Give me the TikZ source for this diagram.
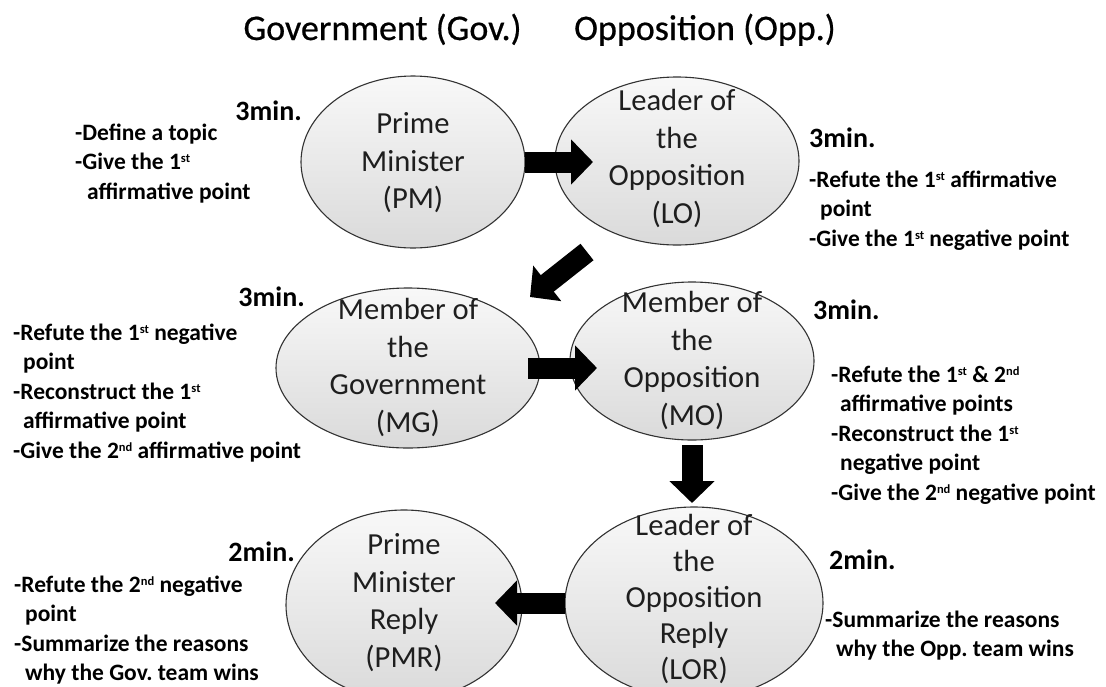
\documentclass[tikz,border=0pt]{standalone}
\usepackage{fontspec}
\setmainfont{Carlito}
\newfontfamily\titlefont{Carlito}[FakeBold=0.6]
\usetikzlibrary{shapes.geometric,arrows.meta}
\definecolor{ellTop}{RGB}{248,248,248}
\definecolor{ellBot}{RGB}{218,218,218}
\definecolor{ellLine}{RGB}{50,50,50}
\definecolor{txt}{RGB}{30,30,30}
\newcommand{\nstrut}{\rule{0pt}{19pt}}
\newcommand{\etop}{\rule{0pt}{24pt}}
\newcommand{\ebot}{\rule[-8pt]{0pt}{8pt}}
\newcommand{\sps}[1]{\raisebox{7pt}{\fontsize{12.5}{12.5}\selectfont #1}}
\begin{document}
\lineskiplimit=-100pt\relax
\begin{tikzpicture}[x=1pt,y=-1pt,
  ell/.style={ellipse, draw=ellLine, line width=1.1pt, top color=ellTop, bottom color=ellBot, inner sep=0pt, outer sep=0pt},
  eltext/.style={align=center, inner sep=0pt, text=txt, font=\fontsize{30.6}{37.5}\selectfont},
  titletext/.style={anchor=base, inner sep=0pt, text=black, font=\titlefont\fontsize{36}{40}\selectfont},
  tmin/.style={inner sep=0pt, text=black, font=\bfseries\fontsize{28}{32}\selectfont},
  note/.style={anchor=north west, align=left, inner sep=0pt, text=black, font=\bfseries\fontsize{23.5}{29.5}\selectfont},
  bigarrow/.style={draw=black, line width=21pt, -{Triangle[length=22pt,width=44pt]}},
]
\useasboundingbox (0,0) rectangle (1106,686);
\fill[white] (0,0) rectangle (1106,686);

% ellipses
\node[ell, minimum width=224pt, minimum height=172pt] (PM) at (413,162) {};
\node[ell, minimum width=244pt, minimum height=168pt] (LO) at (677,161) {};
\node[ell, minimum width=264pt, minimum height=160pt] (MG) at (408,368) {};
\node[ell, minimum width=244pt, minimum height=158pt] (MO) at (692,361) {};
\node[ell, minimum width=236pt, minimum height=190pt] (PMR) at (404,605) {};
\node[ell, minimum width=258pt, minimum height=192pt] (LOR) at (694,603) {};

% arrows
\coordinate (dA) at (587,252);
\coordinate (dB) at (530,297);
\draw[bigarrow, shorten >=-38pt] (PM.east) -- (PM.east -| LO.west);
\draw[bigarrow] (dA) -- (dB);
\draw[bigarrow, shorten <=-12pt, shorten >=-27pt] (MG.east) -- (MG.east -| MO.west);
\draw[bigarrow, shorten <=5pt, shorten >=4pt] (MO.south) -- (MO.south |- LOR.north);
\draw[bigarrow, shorten >=-27pt] (LOR.west) -- (LOR.west -| PMR.east);

% ellipse texts
\node[eltext] (PMt) at (413,163) {\etop Prime\\Minister\\(PM)\ebot};
\node[eltext] (LOt) at (677,159) {\etop Leader of\\the\\Opposition\\(LO)\ebot};
\node[eltext] (MGt) at (408,368) {\etop Member of\\the\\Government\\(MG)\ebot};
\node[eltext] (MOt) at (692,361) {\etop Member of\\the\\Opposition\\(MO)\ebot};
\node[eltext] (PMRt) at (404,603) {\etop Prime\\Minister\\Reply\\(PMR)\ebot};
\node[eltext, font=\fontsize{30.6}{36}\selectfont] (LORt) at (694,599) {\etop Leader of\\the\\Opposition\\Reply\\(LOR)\ebot};

% titles
\node[titletext] (tGov) at (382.5,40) {Government (Gov.)};
\node[titletext] (tOpp) at (705,40) {Opposition (Opp.)};

% times
\node[tmin, anchor=east] (tPM) at (302,111) {3min.};
\node[tmin, anchor=west] (tLO) at (809,138) {3min.};
\node[tmin, anchor=east] (tMG) at (305,297) {3min.};
\node[tmin, anchor=west] (tMO) at (813,310) {3min.};
\node[tmin, anchor=east] (tPMR) at (295,552) {2min.};
\node[tmin, anchor=west] (tLOR) at (829,560) {2min.};

% notes
\node[note] (nPM) at (75,121) {\nstrut-Define a topic\\-Give the 1\sps{st}\\\hspace*{12pt}affirmative point};
\node[note] (nLO) at (809,168) {\nstrut-Refute the 1\sps{st} affirmative\\\hspace*{11pt}point\\-Give the 1\sps{st} negative point};
\node[note] (nMG) at (13,321) {\nstrut-Refute the 1\sps{st} negative\\\hspace*{10pt}point\\-Reconstruct the 1\sps{st}\\\hspace*{10pt}affirmative point\\-Give the 2\sps{nd} affirmative point};
\node[note] (nMO) at (831,363) {\nstrut-Refute the 1\sps{st} \& 2\sps{nd}\\\hspace*{9pt}affirmative points\\-Reconstruct the 1\sps{st}\\\hspace*{9pt}negative point\\-Give the 2\sps{nd} negative point};
\node[note] (nPMR) at (14,573) {\nstrut-Refute the 2\sps{nd} negative\\\hspace*{11pt}point\\-Summarize the reasons\\\hspace*{11pt}why the Gov.\ team wins};
\node[note] (nLOR) at (825,608) {\nstrut-Summarize the reasons\\\hspace*{11pt}why the Opp.\ team wins};
\end{tikzpicture}
\end{document}
